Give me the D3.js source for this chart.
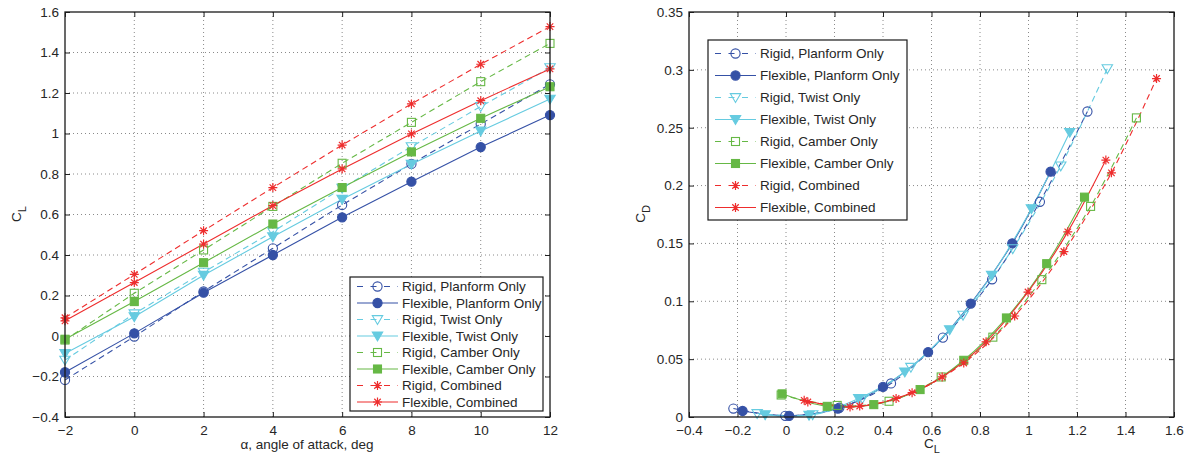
<!DOCTYPE html>
<html>
<head>
<meta charset="utf-8">
<script src="https://cdn.jsdelivr.net/npm/d3@7"></script>
<style>
  html, body { margin: 0; padding: 0; background: #fff; }
  svg { display: block; font-family: "Liberation Sans", Arial, sans-serif; }
</style>
</head>
<body>
<svg id="chart" width="1185" height="455"></svg>
<script>
// ---------------- DATA ----------------
const alpha = [-2, 0, 2, 4, 6, 8, 10, 12];

const clRigidPlanform = [-0.217, -0.003, 0.220, 0.433, 0.647, 0.850, 1.047, 1.243];
const clFlexPlanform  = [-0.179, 0.013, 0.214, 0.400, 0.586, 0.762, 0.933, 1.091];
const clRigidTwist    = [-0.119, 0.110, 0.315, 0.515, 0.730, 0.935, 1.133, 1.325];
const clFlexTwist     = [-0.086, 0.095, 0.300, 0.490, 0.675, 0.848, 1.012, 1.170];
const clRigidCamber   = [-0.020, 0.211, 0.425, 0.640, 0.853, 1.055, 1.256, 1.445];
const clFlexCamber    = [-0.016, 0.170, 0.362, 0.553, 0.733, 0.909, 1.075, 1.231];
const clRigidComb     = [0.090, 0.304, 0.520, 0.733, 0.943, 1.146, 1.342, 1.528];
const clFlexComb      = [0.075, 0.264, 0.454, 0.644, 0.825, 0.998, 1.162, 1.319];

const cdRigidPlanform = [0.0073, 0.0010, 0.0080, 0.0290, 0.0686, 0.1190, 0.1860, 0.2640];
const cdFlexPlanform  = [0.0052, 0.0010, 0.0073, 0.0260, 0.0560, 0.0980, 0.1500, 0.2120];
const cdRigidTwist    = [0.0030, 0.0020, 0.0160, 0.0430, 0.0880, 0.1455, 0.2170, 0.3010];
const cdFlexTwist     = [0.0020, 0.0015, 0.0160, 0.0390, 0.0755, 0.1225, 0.1800, 0.2460];
const cdRigidCamber   = [0.0190, 0.0100, 0.0136, 0.0346, 0.0690, 0.1187, 0.1820, 0.2585];
const cdFlexCamber    = [0.0200, 0.0092, 0.0107, 0.0237, 0.0490, 0.0856, 0.1325, 0.1900];
const cdRigidComb     = [0.0130, 0.0095, 0.0210, 0.0467, 0.0873, 0.1430, 0.2110, 0.2925];
const cdFlexComb      = [0.0144, 0.0087, 0.0160, 0.0346, 0.0650, 0.1080, 0.1600, 0.2220];

const seriesNames = ["Rigid, Planform Only", "Flexible, Planform Only", "Rigid, Twist Only", "Flexible, Twist Only",
                     "Rigid, Camber Only", "Flexible, Camber Only", "Rigid, Combined", "Flexible, Combined"];

const leftXTicks  = [-2, 0, 2, 4, 6, 8, 10, 12];
const leftYTicks  = [-0.4, -0.2, 0, 0.2, 0.4, 0.6, 0.8, 1, 1.2, 1.4, 1.6];
const rightXTicks = [-0.4, -0.2, 0, 0.2, 0.4, 0.6, 0.8, 1, 1.2, 1.4, 1.6];
const rightYTicks = [0, 0.05, 0.1, 0.15, 0.2, 0.25, 0.3, 0.35];

// ---------------- STYLE ----------------
const BLUE = "#3551a6", CYAN = "#66cbe0", GREEN = "#66b845", RED = "#ee2d2d";
const series = [
  { name: seriesNames[0], cl: clRigidPlanform, cd: cdRigidPlanform, color: BLUE,  dashed: true,  marker: "circle",   filled: false },
  { name: seriesNames[1], cl: clFlexPlanform,  cd: cdFlexPlanform,  color: BLUE,  dashed: false, marker: "circle",   filled: true },
  { name: seriesNames[2], cl: clRigidTwist,    cd: cdRigidTwist,    color: CYAN,  dashed: true,  marker: "triangle", filled: false },
  { name: seriesNames[3], cl: clFlexTwist,     cd: cdFlexTwist,     color: CYAN,  dashed: false, marker: "triangle", filled: true },
  { name: seriesNames[4], cl: clRigidCamber,   cd: cdRigidCamber,   color: GREEN, dashed: true,  marker: "square",   filled: false },
  { name: seriesNames[5], cl: clFlexCamber,    cd: cdFlexCamber,    color: GREEN, dashed: false, marker: "square",   filled: true },
  { name: seriesNames[6], cl: clRigidComb,     cd: cdRigidComb,     color: RED,   dashed: true,  marker: "star",     filled: false },
  { name: seriesNames[7], cl: clFlexComb,      cd: cdFlexComb,      color: RED,   dashed: false, marker: "star",     filled: true },
];

const svg = d3.select("#chart");
const TXT = "#262626";
const FS = 13.5;

function fmt(v) {
  const s = (+v.toFixed(3)).toString();
  return s.replace("-", "\u2212");
}

function drawMarker(g, type, filled, color, x, y) {
  if (type === "circle") {
    g.append("circle").attr("cx", x).attr("cy", y).attr("r", 4.6)
      .attr("fill", filled ? color : "none").attr("stroke", color).attr("stroke-width", 1.1);
  } else if (type === "triangle") {
    const s = 5.2;
    g.append("path").attr("d", `M${x - s},${y - s * 0.75}L${x + s},${y - s * 0.75}L${x},${y + s * 0.95}Z`)
      .attr("fill", filled ? color : "none").attr("stroke", color).attr("stroke-width", 1.1);
  } else if (type === "square") {
    const s = 4;
    g.append("rect").attr("x", x - s).attr("y", y - s).attr("width", 2 * s).attr("height", 2 * s)
      .attr("fill", filled ? color : "none").attr("stroke", color).attr("stroke-width", 1.1);
  } else if (type === "star") {
    const r = 4.5, d = r * 0.72;
    g.append("path")
      .attr("d", `M${x - r},${y}L${x + r},${y}M${x},${y - r}L${x},${y + r}M${x - d},${y - d}L${x + d},${y + d}M${x - d},${y + d}L${x + d},${y - d}`)
      .attr("fill", "none").attr("stroke", color).attr("stroke-width", 1.2);
  }
}

function drawPanel(opts) {
  const { x0, x1, y0, y1, xDomain, yDomain, xTicks, yTicks, getX, getY, curve } = opts;
  const xs = d3.scaleLinear().domain(xDomain).range([x0, x1]);
  const ys = d3.scaleLinear().domain(yDomain).range([y1, y0]);
  const g = svg.append("g");

  // grid
  const grid = g.append("g").attr("stroke", "#8a8a8a").attr("stroke-width", 1).attr("stroke-dasharray", "1,3");
  xTicks.forEach(t => {
    if (t === xDomain[0] || t === xDomain[1]) return;
    grid.append("line").attr("x1", xs(t)).attr("x2", xs(t)).attr("y1", y0).attr("y2", y1);
  });
  yTicks.forEach(t => {
    if (t === yDomain[0] || t === yDomain[1]) return;
    grid.append("line").attr("x1", x0).attr("x2", x1).attr("y1", ys(t)).attr("y2", ys(t));
  });

  // axes (use d3 axes for tick labels)
  const axB = d3.axisBottom(xs).tickValues(xTicks).tickFormat(fmt).tickSizeInner(-5).tickSizeOuter(0).tickPadding(8);
  const axL = d3.axisLeft(ys).tickValues(yTicks).tickFormat(fmt).tickSizeInner(-5).tickSizeOuter(0).tickPadding(6);
  const axT = d3.axisTop(xs).tickValues(xTicks).tickFormat("").tickSizeInner(-5).tickSizeOuter(0);
  const axR = d3.axisRight(ys).tickValues(yTicks).tickFormat("").tickSizeInner(-5).tickSizeOuter(0);
  [[axB, `translate(0,${y1})`], [axL, `translate(${x0},0)`], [axT, `translate(0,${y0})`], [axR, `translate(${x1},0)`]]
    .forEach(([ax, tr]) => {
      const a = g.append("g").attr("transform", tr).call(ax);
      a.select(".domain").remove();
      a.selectAll(".tick line").attr("stroke", "#222").attr("stroke-width", 1);
      a.selectAll(".tick text").attr("fill", TXT).attr("font-size", FS).attr("font-family", "Liberation Sans, Arial, sans-serif");
    });

  // data
  const dg = g.append("g");
  series.forEach(s => {
    const pts = alpha.map((a, i) => [xs(getX(s, i)), ys(getY(s, i))]);
    dg.append("path").attr("d", d3.line().curve(curve)(pts))
      .attr("fill", "none").attr("stroke", s.color).attr("stroke-width", 1.1)
      .attr("stroke-dasharray", s.dashed ? "6,4" : null);
  });
  series.forEach(s => {
    const mg = dg.append("g");
    alpha.forEach((a, i) => drawMarker(mg, s.marker, s.filled, s.color, xs(getX(s, i)), ys(getY(s, i))));
  });

  // frame
  g.append("rect").attr("x", x0).attr("y", y0).attr("width", x1 - x0).attr("height", y1 - y0)
    .attr("fill", "none").attr("stroke", "#1a1a1a").attr("stroke-width", 1.3);
  return { xs, ys, g };
}

function drawLegend(x, y, w, h, rowY0, rowStep) {
  const lg = svg.append("g");
  lg.append("rect").attr("x", x).attr("y", y).attr("width", w).attr("height", h)
    .attr("fill", "#fff").attr("stroke", "#1a1a1a").attr("stroke-width", 1.2);
  series.forEach((s, i) => {
    const cy = rowY0 + i * rowStep;
    const lx0 = x + 7, lx1 = x + 48, mx = x + 27.5;
    lg.append("line").attr("x1", lx0).attr("x2", lx1).attr("y1", cy).attr("y2", cy)
      .attr("stroke", s.color).attr("stroke-width", 1.1)
      .attr("stroke-dasharray", s.dashed ? "6,7.5" : null);
    drawMarker(lg, s.marker, s.filled, s.color, mx, cy);
    lg.append("text").attr("x", x + 52).attr("y", cy).attr("dy", "0.36em")
      .attr("fill", TXT).attr("font-size", FS).text(s.name);
  });
}

// Left panel: CL vs alpha
drawPanel({
  x0: 65, x1: 550, y0: 12, y1: 417,
  xDomain: [-2, 12], yDomain: [-0.4, 1.6],
  xTicks: leftXTicks, yTicks: leftYTicks,
  getX: (s, i) => alpha[i], getY: (s, i) => s.cl[i],
  curve: d3.curveLinear
});
drawLegend(350, 277, 193, 134, 286.5, 16.5);

// Right panel: CD vs CL
drawPanel({
  x0: 689, x1: 1174, y0: 12, y1: 417,
  xDomain: [-0.4, 1.6], yDomain: [0, 0.35],
  xTicks: rightXTicks, yTicks: rightYTicks,
  getX: (s, i) => s.cl[i], getY: (s, i) => s.cd[i],
  curve: d3.curveCatmullRom.alpha(0.5)
});
drawLegend(708, 40, 199, 180, 53.5, 22);

// Axis labels
function subLabel(x, y, main, sub, rotate) {
  const t = svg.append("text").attr("fill", TXT).attr("font-size", FS)
    .attr("transform", `translate(${x},${y})` + (rotate ? " rotate(-90)" : ""))
    .attr("text-anchor", "middle");
  t.append("tspan").text(main);
  t.append("tspan").attr("font-size", 11).attr("dy", 5).text(sub);
}
subLabel(21, 214, "C", "L", true);
subLabel(645, 214, "C", "D", true);
subLabel(932, 448, "C", "L", false);
svg.append("text").attr("x", 307).attr("y", 449).attr("text-anchor", "middle")
  .attr("fill", TXT).attr("font-size", FS).text("\u03b1, angle of attack, deg");
</script>
</body>
</html>
